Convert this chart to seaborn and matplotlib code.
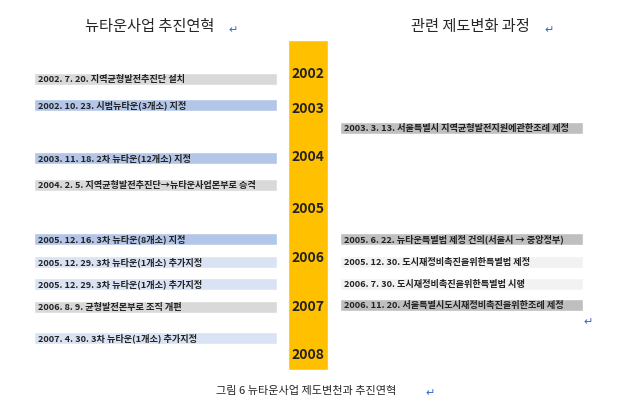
import matplotlib
matplotlib.use("Agg")
import matplotlib.pyplot as plt
import seaborn as sns

sns.set_theme(style="white")
plt.rcParams["font.family"] = ["Noto Sans CJK KR", "DejaVu Sans"]

years = ["2002", "2003", "2004", "2005", "2006", "2007", "2008"]
year_pos = [74, 109, 157, 209, 258, 307, 355]

left_labels = [
    "2002. 7. 20. 지역균형발전추진단 설치",
    "2002. 10. 23. 시범뉴타운(3개소) 지정",
    "2003. 11. 18. 2차 뉴타운(12개소) 지정",
    "2004. 2. 5. 지역균형발전추진단→뉴타운사업본부로 승격",
    "2005. 12. 16. 3차 뉴타운(8개소) 지정",
    "2005. 12. 29. 3차 뉴타운(1개소) 추가지정",
    "2005. 12. 29. 3차 뉴타운(1개소) 추가지정",
    "2006. 8. 9. 균형발전본부로 조직 개편",
    "2007. 4. 30. 3차 뉴타운(1개소) 추가지정",
]
left_rows = [79, 105, 158, 185, 239, 262, 284, 307, 338]
left_colors = ["#d9d9d9", "#b4c6e7", "#b4c6e7", "#d9d9d9", "#b4c6e7",
               "#dae3f3", "#dae3f3", "#d9d9d9", "#dae3f3"]

right_labels = [
    "2003. 3. 13. 서울특별시 지역균형발전지원에관한조례 제정",
    "2005. 6. 22. 뉴타운특별법 제정 건의(서울시 → 중앙정부)",
    "2005. 12. 30. 도시재정비촉진을위한특별법 제정",
    "2006. 7. 30. 도시재정비촉진을위한특별법 시행",
    "2006. 11. 20. 서울특별시도시재정비촉진을위한조례 제정",
]
right_rows = [128, 239, 262, 284, 305]
right_colors = ["#bfbfbf", "#bfbfbf", "#f2f2f2", "#f2f2f2", "#bfbfbf"]

fig = plt.figure(figsize=(6.33, 4.07), dpi=100)
ax = fig.add_axes([0, 0, 1, 1])
ax.set_xlim(0, 633)
ax.set_ylim(407, 0)
ax.axis("off")

ax.barh(left_rows, 243, left=34, height=12, color=left_colors)
ax.barh(right_rows, 243, left=340, height=12, color=right_colors)
ax.bar([308], [330], bottom=40, width=40, color="#ffc000")

for y, t in zip(left_rows, left_labels):
    ax.text(38, y, t, fontsize=6.6, fontweight="bold", va="center", ha="left", color="#222")
for y, t in zip(right_rows, right_labels):
    ax.text(344, y, t, fontsize=6.6, fontweight="bold", va="center", ha="left", color="#222")
for y, t in zip(year_pos, years):
    ax.text(308, y, t, fontsize=10, fontweight="bold", va="center", ha="center", color="#222")

arrow = dict(fontsize=8, color="#3366cc", ha="center", va="center", family="DejaVu Sans")
ax.text(150, 27, "뉴타운사업 추진연혁", fontsize=11, ha="center", va="center")
ax.text(233, 30, "↵", **arrow)
ax.text(470, 27, "관련 제도변화 과정", fontsize=11, ha="center", va="center")
ax.text(549, 30, "↵", **arrow)
ax.text(588, 322, "↵", **arrow)
ax.text(306, 391, "그림 6 뉴타운사업 제도변천과 추진연혁", fontsize=8, ha="center", va="center")
ax.text(430, 393, "↵", **arrow)

fig.savefig("out.png", dpi=100)
